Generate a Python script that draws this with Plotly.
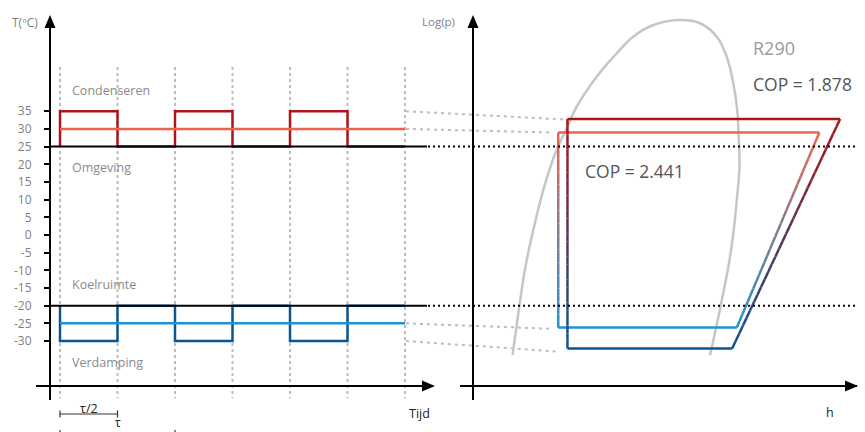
import plotly.graph_objects as go

W, H = 865, 432

# ---------------- data ----------------
# Left panel: time in units of tau, temperatures in °C
grid_t = [0, 0.5, 1, 1.5, 2, 2.5, 3]          # dotted time markers (t/τ)
pulse_starts = [0, 1, 2]                         # start of each half-period pulse
pulse_len = 0.5
t_end = 3
T_cond_high = 35
T_cond_mean = 30
T_ambient = 25
T_cold_room = -20
T_evap_mean = -25
T_evap_low = -30
y_ticks = [35, 30, 25, 20, 15, 10, 5, 0, -5, -10, -15, -20, -25, -30]
zone_labels = ["Condenseren", "Omgeving", "Koelruimte", "Verdamping"]
zone_label_T = [41.0, 19.0, -14.0, -36.0]

# Right panel: log(p)-h diagram (h arbitrary units, pressure shown as saturation temperature)
dome_h = [10.3, 11.8, 13.5, 15.7, 18.8, 21.8, 24.2, 27.0, 32.2, 37.4, 41.7, 47.0, 53.9,
          59.1, 63.5, 66.1, 67.8, 68.8, 69.2, 69.4, 68.7, 67.8, 66.5, 64.8, 63.0, 61.7]
dome_T = [-34.0, -22.2, -9.9, 1.4, 14.6, 24.1, 29.7, 36.3, 44.8, 51.4, 56.1, 59.4, 60.8,
          59.9, 56.1, 50.4, 42.9, 35.4, 27.8, 19.3, 9.9, 0.5, -9.0, -18.4, -27.8, -34.0]
# cycle corners: top-left, top-right, bottom-right, bottom-left
cyc_hi_h = [24.6, 95.6, 67.5, 24.6]
cyc_hi_T = [32.8, 32.8, -32.1, -32.1]
cyc_lo_h = [22.2, 90.2, 68.7, 22.2]
cyc_lo_T = [29.0, 29.0, -26.2, -26.2]
cop_hi = 1.878
cop_lo = 2.441
# dotted connectors: left panel level -> right panel point
conn_T_left = [35, 30, -25, -30]
conn_h_right = [23.6, 20.5, 19.8, 22.4]
conn_T_right = [32.7, 29.0, -26.5, -33.0]

# ---------------- colours ----------------
DARK_RED = "#ae151b"
ORANGE = "#f0634a"
LIGHT_BLUE = "#1b94d0"
DARK_BLUE = "#0b5692"
GRAY_DOME = "#c6c6c6"
GRAY_DOT = "#bdbdbd"
LABEL_GRAY = "#8a8a8a"
FONT = "Open Sans"

# ---------------- axes geometry ----------------
X1_DOM = [36 / W, 433 / W]
X1_RANGE = [-0.2087, 3.2435]
X2_DOM = [460 / W, 857 / W]
X2_RANGE = [-3.385, 100]
Y_DOM = [32 / H, 415 / H]
Y_RANGE = [-46.68, 61.67]
XAXIS_POS = 1 - 386 / H


def x1_paper(t):
    return X1_DOM[0] + (t - X1_RANGE[0]) / (X1_RANGE[1] - X1_RANGE[0]) * (X1_DOM[1] - X1_DOM[0])


def x2_paper(h):
    return X2_DOM[0] + (h - X2_RANGE[0]) / (X2_RANGE[1] - X2_RANGE[0]) * (X2_DOM[1] - X2_DOM[0])


def hex2rgb(c):
    c = c.lstrip("#")
    return tuple(int(c[i:i + 2], 16) for i in (0, 2, 4))


def mix(c0, c1, f):
    a, b = hex2rgb(c0), hex2rgb(c1)
    return "rgb(%d,%d,%d)" % tuple(round(a[i] + (b[i] - a[i]) * f) for i in range(3))


fig = go.Figure()


def add_line(x, y, color, width, dash="solid", xa="x", ya="y", shape="linear"):
    fig.add_trace(go.Scatter(x=x, y=y, mode="lines", xaxis=xa, yaxis=ya,
                             line=dict(color=color, width=width, dash=dash, shape=shape),
                             hoverinfo="skip", showlegend=False))


def add_gradient(x0, y0, x1, y1, c0, c1, width, n=30):
    for i in range(n):
        f0, f1 = i / n, (i + 1) / n
        add_line([x0 + (x1 - x0) * f0, x0 + (x1 - x0) * f1],
                 [y0 + (y1 - y0) * f0, y0 + (y1 - y0) * f1],
                 mix(c0, c1, (f0 + f1) / 2), width, xa="x2", ya="y2")


# ---- left panel ----
gx, gy = [], []
for t in grid_t:
    gx += [t, t, None]
    gy += [47.5, -46.2, None]
add_line(gx, gy, GRAY_DOT, 2, dash="3px,3px")


def square_wave(base, peak):
    xs, ys = [], []
    for s in pulse_starts:
        xs += [s, s, s + pulse_len, s + pulse_len]
        ys += [base, peak, peak, base]
    xs.append(t_end)
    ys.append(base)
    return xs, ys


wx, wy = square_wave(T_ambient, T_cond_high)
add_line(wx, wy, DARK_RED, 2.5)
add_line([0, t_end], [T_cond_mean, T_cond_mean], ORANGE, 2.5)
wx, wy = square_wave(T_cold_room, T_evap_low)
add_line(wx, wy, DARK_BLUE, 2.5)
add_line([0, t_end], [T_evap_mean, T_evap_mean], LIGHT_BLUE, 2.5)

# ---- right panel ----
add_line(dome_h, dome_T, GRAY_DOME, 2.5, xa="x2", ya="y2", shape="spline")


def add_cycle(hs, Ts, ctop, cbot):
    add_line([hs[0], hs[1]], [Ts[0], Ts[1]], ctop, 2.5, xa="x2", ya="y2")
    add_gradient(hs[1], Ts[1], hs[2], Ts[2], ctop, cbot, 2.5)
    add_line([hs[2], hs[3]], [Ts[2], Ts[3]], cbot, 2.5, xa="x2", ya="y2")
    add_gradient(hs[3], Ts[3], hs[0], Ts[0], cbot, ctop, 2.5)


add_cycle(cyc_lo_h, cyc_lo_T, ORANGE, LIGHT_BLUE)
add_cycle(cyc_hi_h, cyc_hi_T, DARK_RED, DARK_BLUE)

# ---------------- shapes ----------------
shapes = []
# ambient / cold-room lines: solid in left panel, dotted across right panel
for T in (T_ambient, T_cold_room):
    shapes.append(dict(type="line", xref="paper", yref="y", x0=50 / W, x1=427 / W, y0=T, y1=T,
                       line=dict(color="black", width=2)))
    shapes.append(dict(type="line", xref="paper", yref="y", x0=428 / W, x1=858 / W, y0=T, y1=T,
                       line=dict(color="black", width=2, dash="2px,3px")))
# connectors
for TL, hR, TR in zip(conn_T_left, conn_h_right, conn_T_right):
    shapes.append(dict(type="line", xref="paper", yref="y", x0=x1_paper(t_end) + 1 / W,
                       x1=x2_paper(hR), y0=TL, y1=TR,
                       line=dict(color=GRAY_DOT, width=2, dash="3px,4px"), layer="below"))


def tri(tip, base1, base2):
    pts = [tip, base1, base2]
    p = "M %f %f L %f %f L %f %f Z" % tuple(v for (px, py) in pts for v in (px / W, 1 - py / H))
    return dict(type="path", xref="paper", yref="paper", path=p,
                fillcolor="black", line=dict(color="black", width=0))


shapes.append(tri((50, 15), (44.5, 28), (55.5, 28)))
shapes.append(tri((473, 15), (467.5, 28), (478.5, 28)))
shapes.append(tri((435, 386), (422, 380.5), (422, 391.5)))
shapes.append(tri((858, 386), (845, 380.5), (845, 391.5)))

# tau brackets below the time axis
for (t0, t1, ypx) in [(0, pulse_len, 414), (0, 2 * pulse_len, 433.5)]:
    yb = 1 - ypx / H
    shapes.append(dict(type="line", xref="x", yref="paper", x0=t0, x1=t1, y0=yb, y1=yb,
                       line=dict(color="#333333", width=1.2)))
    for tt in (t0, t1):
        shapes.append(dict(type="line", xref="x", yref="paper", x0=tt, x1=tt,
                           y0=yb - 3.5 / H, y1=yb + 3.5 / H,
                           line=dict(color="#333333", width=1.2)))

# ---------------- annotations ----------------
ann = []
for lab, T in zip(zone_labels, zone_label_T):
    ann.append(dict(text=lab, x=0.085, y=T, xref="x", yref="y", xanchor="left", yanchor="middle",
                    showarrow=False, font=dict(family=FONT, size=12.5, color=LABEL_GRAY)))
ann.append(dict(text="T(ºC)", x=25 / W, y=1 - 22.5 / H, xref="paper", yref="paper",
                xanchor="center", yanchor="middle", showarrow=False,
                font=dict(family=FONT, size=12, color="#7f7f7f")))
ann.append(dict(text="Log(p)", x=457 / W, y=1 - 21.5 / H, xref="paper", yref="paper",
                xanchor="right", yanchor="middle", showarrow=False,
                font=dict(family=FONT, size=11.5, color="#7f7f7f")))
ann.append(dict(text="Tijd", x=3.235, y=1 - 413 / H, xref="x", yref="paper",
                xanchor="right", yanchor="middle", showarrow=False,
                font=dict(family=FONT, size=12.5, color="#222222")))
ann.append(dict(text="h", x=93.0, y=1 - 412.5 / H, xref="x2", yref="paper",
                xanchor="center", yanchor="middle", showarrow=False,
                font=dict(family=FONT, size=12.5, color="#222222")))
ann.append(dict(text="τ/2", x=pulse_len / 2, y=1 - 408 / H, xref="x", yref="paper",
                xanchor="center", yanchor="middle", showarrow=False,
                font=dict(family=FONT, size=12.5, color="#222222")))
ann.append(dict(text="τ", x=pulse_len, y=1 - 422 / H, xref="x", yref="paper",
                xanchor="center", yanchor="middle", showarrow=False,
                font=dict(family=FONT, size=12, color="#222222")))
ann.append(dict(text="R290", x=72.4, y=52.9, xref="x2", yref="y2", xanchor="left",
                yanchor="middle", showarrow=False, font=dict(family=FONT, size=18, color="#9a9a9a")))
ann.append(dict(text="COP = %.3f" % cop_hi, x=72.4, y=42.7, xref="x2", yref="y2", xanchor="left",
                yanchor="middle", showarrow=False, font=dict(family=FONT, size=17.5, color="#555555")))
ann.append(dict(text="COP = %.3f" % cop_lo, x=28.6, y=18.2, xref="x2", yref="y2", xanchor="left",
                yanchor="middle", showarrow=False, font=dict(family=FONT, size=17.5, color="#555555")))

axis_common = dict(showgrid=False, zeroline=False, showline=True, linecolor="black", linewidth=2,
                   fixedrange=True)

fig.update_layout(
    width=W, height=H, autosize=False,
    margin=dict(l=0, r=0, t=0, b=0),
    paper_bgcolor="white", plot_bgcolor="white",
    showlegend=False,
    shapes=shapes, annotations=ann,
    xaxis=dict(domain=X1_DOM, range=X1_RANGE, anchor="free", position=XAXIS_POS,
               showticklabels=False, ticks="", **axis_common),
    yaxis=dict(domain=Y_DOM, range=Y_RANGE, anchor="free", position=50 / W,
               tickvals=y_ticks, ticktext=[str(v) for v in y_ticks], ticks="outside",
               ticklen=5, tickwidth=1.5, tickcolor="black", ticklabelstandoff=10,
               tickfont=dict(family=FONT, size=12, color="#7f7f7f"), **axis_common),
    xaxis2=dict(domain=X2_DOM, range=X2_RANGE, anchor="free", position=XAXIS_POS,
                showticklabels=False, ticks="", **axis_common),
    yaxis2=dict(domain=Y_DOM, range=Y_RANGE, anchor="free", position=473 / W,
                showticklabels=False, ticks="", **axis_common),
)

fig.write_html("out.html", config={"displayModeBar": False},
               post_script="document.body.style.margin='0px';document.body.style.overflow='hidden';")
